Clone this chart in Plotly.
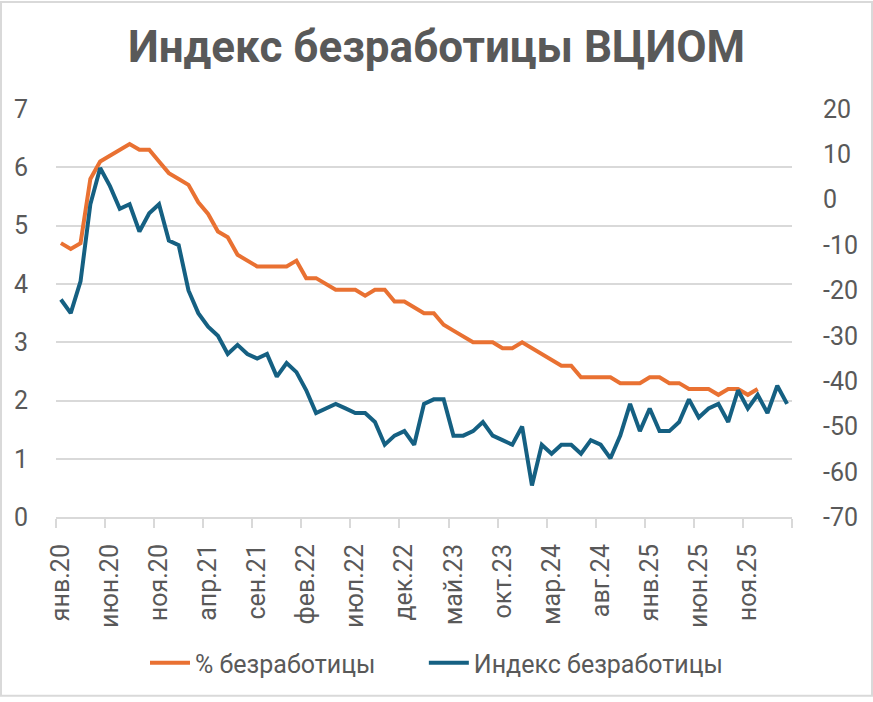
import plotly.graph_objects as go

# ---- data ----
month_abbr = ["янв", "фев", "мар", "апр", "май", "июн",
              "июл", "авг", "сен", "окт", "ноя", "дек"]
years = ["20", "21", "22", "23", "24", "25", "26"]
categories = [f"{m}.{y}" for y in years for m in month_abbr][:75]   # янв.20 ... мар.26

unemployment_pct = [
    4.7, 4.6, 4.7, 5.8, 6.1, 6.2, 6.3, 6.4, 6.3, 6.3,
    6.1, 5.9, 5.8, 5.7, 5.4, 5.2, 4.9, 4.8, 4.5, 4.4,
    4.3, 4.3, 4.3, 4.3, 4.4, 4.1, 4.1, 4.0, 3.9, 3.9,
    3.9, 3.8, 3.9, 3.9, 3.7, 3.7, 3.6, 3.5, 3.5, 3.3,
    3.2, 3.1, 3.0, 3.0, 3.0, 2.9, 2.9, 3.0, 2.9, 2.8,
    2.7, 2.6, 2.6, 2.4, 2.4, 2.4, 2.4, 2.3, 2.3, 2.3,
    2.4, 2.4, 2.3, 2.3, 2.2, 2.2, 2.2, 2.1, 2.2, 2.2,
    2.1, 2.2,
]

vciom_index = [
    -22, -25, -18, -1, 7, 3, -2, -1, -7, -3,
    -1, -9, -10, -20, -25, -28, -30, -34, -32, -34,
    -35, -34, -39, -36, -38, -42, -47, -46, -45, -46,
    -47, -47, -49, -54, -52, -51, -54, -45, -44, -44,
    -52, -52, -51, -49, -52, -53, -54, -50, -63, -54,
    -56, -54, -54, -56, -53, -54, -57, -52, -45, -51,
    -46, -51, -51, -49, -44, -48, -46, -45, -49, -42,
    -46, -43, -47, -41, -45,
]

tick_labels = ["янв.20", "июн.20", "ноя.20", "апр.21", "сен.21", "фев.22",
               "июл.22", "дек.22", "май.23", "окт.23", "мар.24", "авг.24",
               "янв.25", "июн.25", "ноя.25"]
tick_positions = [categories.index(t) for t in tick_labels]

left_ticks = [0, 1, 2, 3, 4, 5, 6, 7]
right_ticks = [-70, -60, -50, -40, -30, -20, -10, 0, 10, 20]
right_ticktext = [str(v) for v in right_ticks]   # plain hyphen minus as in the original

series_names = ["% безработицы", "Индекс безработицы"]

# ---- style ----
W, H = 873, 702
ML, MR, MT, MB = 56, 81, 109, 181
ORANGE = "#E97132"
BLUE = "#156082"
TXT = "#595959"
GRID = "#D9D9D9"
FONT = "Roboto, Liberation Sans, Arial, sans-serif"
FS = 25
PAD = "\u00a0" * 7   # extra spacing after the first legend entry

x_idx = list(range(len(categories)))

fig = go.Figure()
fig.add_trace(go.Scatter(
    x=x_idx[:len(unemployment_pct)], y=unemployment_pct,
    customdata=categories[:len(unemployment_pct)],
    name=series_names[0] + PAD, mode="lines",
    line=dict(color=ORANGE, width=4),
    hovertemplate="%{customdata}: %{y}<extra>" + series_names[0] + "</extra>",
    yaxis="y",
))
fig.add_trace(go.Scatter(
    x=x_idx[:len(vciom_index)], y=vciom_index,
    customdata=categories[:len(vciom_index)],
    name=series_names[1], mode="lines",
    line=dict(color=BLUE, width=4),
    hovertemplate="%{customdata}: %{y}<extra>" + series_names[1] + "</extra>",
    yaxis="y2",
))

fig.update_layout(
    width=W, height=H,
    margin=dict(l=ML, r=MR, t=MT, b=MB),
    paper_bgcolor="white", plot_bgcolor="white",
    font=dict(family=FONT, color=TXT, size=FS),
    title=dict(
        text="<b>Индекс безработицы ВЦИОМ</b>",
        x=0.5, xref="container", xanchor="center",
        y=1 - 47 / H, yref="container", yanchor="middle",
        font=dict(family=FONT, size=44, color=TXT),
    ),
    xaxis=dict(
        range=[-0.5, len(categories) - 0.5],
        tickmode="array", tickvals=tick_positions, ticktext=tick_labels,
        tickangle=-90, ticks="", showgrid=False, zeroline=False,
        showline=True, linecolor=GRID, linewidth=1.5,
        ticklabelstandoff=15,
        tickfont=dict(size=FS, color=TXT),
        minor=dict(tick0=-0.5, dtick=5, ticks="outside", ticklen=9,
                   tickcolor=GRID, tickwidth=1.5, showgrid=False),
    ),
    yaxis=dict(
        range=[0, 7], tickmode="array", tickvals=left_ticks,
        showgrid=True, gridcolor=GRID, gridwidth=1.5,
        zeroline=False, showline=False, ticks="",
        ticklabelstandoff=27, tickfont=dict(size=FS, color=TXT),
    ),
    yaxis2=dict(
        range=[-70, 20], tickmode="array", tickvals=right_ticks,
        ticktext=right_ticktext, overlaying="y", side="right",
        showgrid=False, zeroline=False, showline=False, ticks="",
        ticklabelstandoff=30, tickfont=dict(size=FS, color=TXT),
    ),
    legend=dict(
        orientation="h", x=0.5, xref="container", xanchor="center",
        y=1 - 663 / H, yref="container", yanchor="middle",
        font=dict(size=FS, color=TXT), itemwidth=40,
        traceorder="normal",
    ),
    hovermode="x unified",
    showlegend=True,
)

# chart-area border
pw, ph = W - ML - MR, H - MT - MB
fig.add_shape(type="rect", xref="paper", yref="paper",
              x0=(1 - ML) / pw, x1=1 + (MR - 1) / pw,
              y0=-(MB - 1) / ph, y1=1 + (MT - 1) / ph,
              line=dict(color=GRID, width=2), fillcolor="rgba(0,0,0,0)",
              layer="below")

fig.write_html(
    "out.html",
    config={"displayModeBar": False},
    post_script="document.body.style.margin='0';document.body.style.overflow='hidden';",
)
